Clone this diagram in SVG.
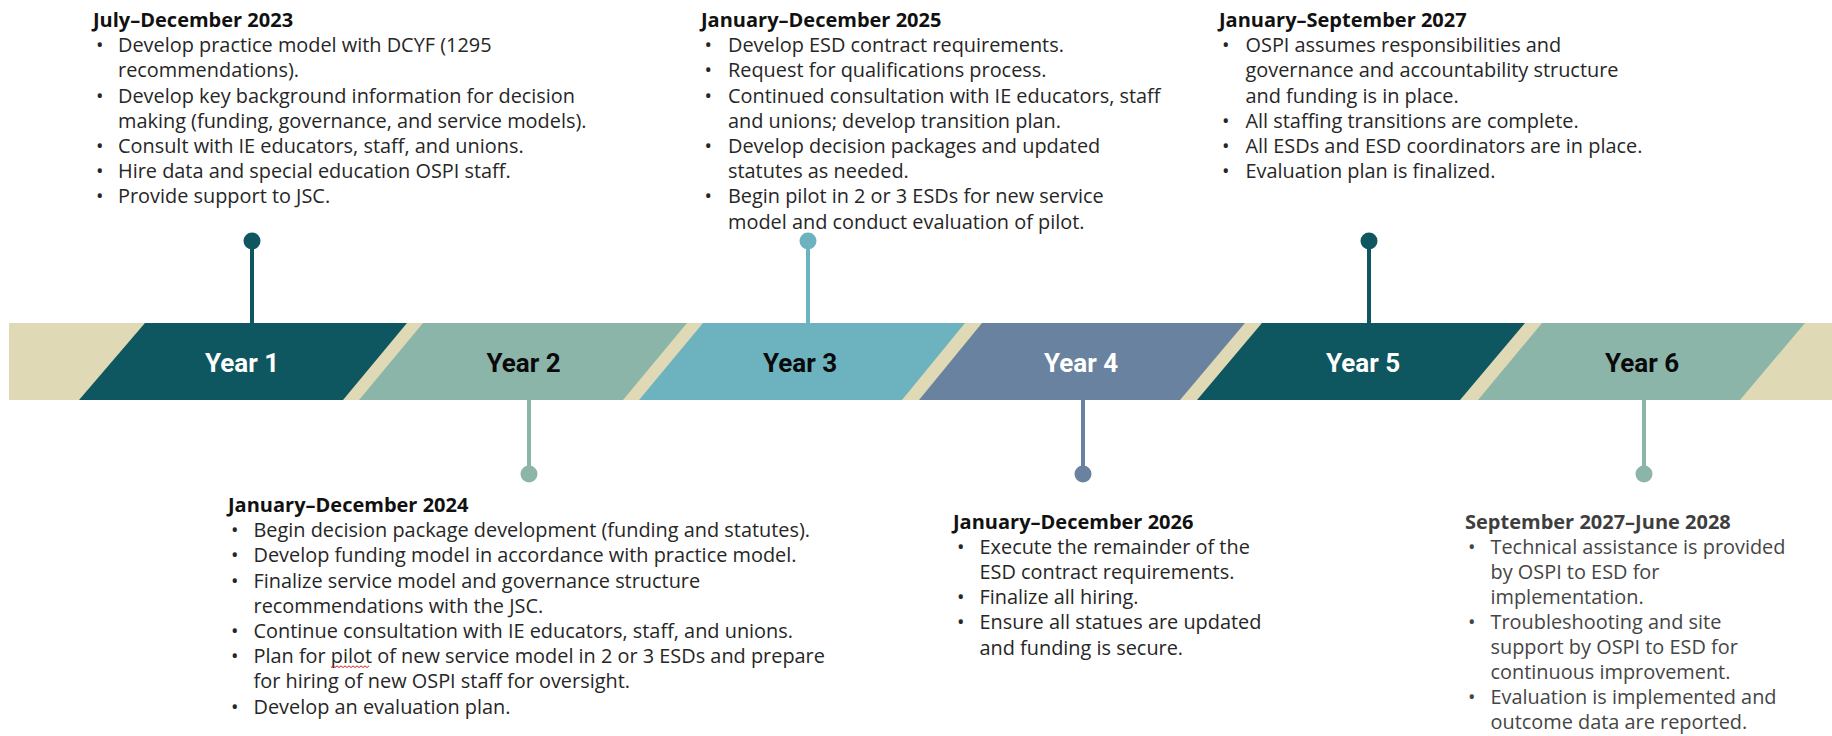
<svg xmlns="http://www.w3.org/2000/svg" width="1832" height="736" viewBox="0 0 1832 736">
<style>
.band{fill:#E0D9B5}
.dk{fill:#0E5660}
.sg{fill:#8CB5AA}
.tl{fill:#6DB3BF}
.sl{fill:#6882A0}
.yl{font-family:Roboto,"Liberation Sans",sans-serif;font-weight:700;font-size:26px;text-anchor:middle}
.w{fill:#FFFFFF}
.b{fill:#0A0A0A}
.hd{font-family:"Open Sans","Liberation Sans",sans-serif;font-weight:700;font-size:20px;fill:#111111}
.tx{font-family:"Open Sans","Liberation Sans",sans-serif;font-size:19.9px;fill:#262626}
.g6 .hd{fill:#3E3E3E}
.g6 .tx{fill:#454545}
.pin{stroke-width:4;fill:none}
</style>
<rect width="1832" height="736" fill="#FFFFFF"/>
<g id="timeline-band">
<rect class="band" x="9" y="323" width="1823" height="77"/>
</g>
<g id="year1">
<polygon class="dk" points="145,323 407,323 343,400 79,400"/>
<text class="yl w" x="242" y="371.5">Year 1</text>
</g>
<g id="year2">
<polygon class="sg" points="423,323 687,323 623,400 359,400"/>
<text class="yl b" x="523.5" y="371.5">Year 2</text>
</g>
<g id="year3">
<polygon class="tl" points="703,323 965,323 902,400 639,400"/>
<text class="yl b" x="800" y="371.5">Year 3</text>
</g>
<g id="year4">
<polygon class="sl" points="982,323 1245,323 1180,400 919,400"/>
<text class="yl w" x="1081" y="371.5">Year 4</text>
</g>
<g id="year5">
<polygon class="dk" points="1262,323 1525,323 1460,400 1197,400"/>
<text class="yl w" x="1363" y="371.5">Year 5</text>
</g>
<g id="year6">
<polygon class="sg" points="1542,323 1805,323 1740,400 1478,400"/>
<text class="yl b" x="1642" y="371.5">Year 6</text>
</g>
<g id="connectors">
<line class="pin" x1="252" y1="241" x2="252" y2="323" stroke="#0E5660"/>
<circle cx="252" cy="241" r="8.5" fill="#0E5660"/>
<line class="pin" x1="808" y1="241" x2="808" y2="323" stroke="#6DB3BF"/>
<circle cx="808" cy="241" r="8.5" fill="#6DB3BF"/>
<line class="pin" x1="1369" y1="241" x2="1369" y2="323" stroke="#0E5660"/>
<circle cx="1369" cy="241" r="8.5" fill="#0E5660"/>
<line class="pin" x1="529" y1="400" x2="529" y2="474" stroke="#8CB5AA"/>
<circle cx="529" cy="474" r="8.5" fill="#8CB5AA"/>
<line class="pin" x1="1083" y1="400" x2="1083" y2="474" stroke="#6882A0"/>
<circle cx="1083" cy="474" r="8.5" fill="#6882A0"/>
<line class="pin" x1="1644" y1="400" x2="1644" y2="474" stroke="#8CB5AA"/>
<circle cx="1644" cy="474" r="8.5" fill="#8CB5AA"/>
</g>
<g id="block-2023">
<text class="hd" x="93" y="27">July–December 2023</text>
<text class="tx" x="96" y="52.2">•</text><text class="tx" x="118" y="52.2">Develop practice model with DCYF (1295</text>
<text class="tx" x="118" y="77.4">recommendations).</text>
<text class="tx" x="96" y="102.6">•</text><text class="tx" x="118" y="102.6">Develop key background information for decision</text>
<text class="tx" x="118" y="127.8">making (funding, governance, and service models).</text>
<text class="tx" x="96" y="153">•</text><text class="tx" x="118" y="153">Consult with IE educators, staff, and unions.</text>
<text class="tx" x="96" y="178.2">•</text><text class="tx" x="118" y="178.2">Hire data and special education OSPI staff.</text>
<text class="tx" x="96" y="203.4">•</text><text class="tx" x="118" y="203.4">Provide support to JSC.</text>
</g>
<g id="block-2025">
<text class="hd" x="701" y="27">January–December 2025</text>
<text class="tx" x="704.5" y="52.2">•</text><text class="tx" x="728" y="52.2">Develop ESD contract requirements.</text>
<text class="tx" x="704.5" y="77.4">•</text><text class="tx" x="728" y="77.4">Request for qualifications process.</text>
<text class="tx" x="704.5" y="102.6">•</text><text class="tx" x="728" y="102.6">Continued consultation with IE educators, staff</text>
<text class="tx" x="728" y="127.8">and unions; develop transition plan.</text>
<text class="tx" x="704.5" y="153">•</text><text class="tx" x="728" y="153">Develop decision packages and updated</text>
<text class="tx" x="728" y="178.2">statutes as needed.</text>
<text class="tx" x="704.5" y="203.4">•</text><text class="tx" x="728" y="203.4">Begin pilot in 2 or 3 ESDs for new service</text>
<text class="tx" x="728" y="228.6">model and conduct evaluation of pilot.</text>
</g>
<g id="block-2027">
<text class="hd" x="1219" y="27">January–September 2027</text>
<text class="tx" x="1222" y="52.2">•</text><text class="tx" x="1245.5" y="52.2">OSPI assumes responsibilities and</text>
<text class="tx" x="1245.5" y="77.4">governance and accountability structure</text>
<text class="tx" x="1245.5" y="102.6">and funding is in place.</text>
<text class="tx" x="1222" y="127.8">•</text><text class="tx" x="1245.5" y="127.8">All staffing transitions are complete.</text>
<text class="tx" x="1222" y="153">•</text><text class="tx" x="1245.5" y="153">All ESDs and ESD coordinators are in place.</text>
<text class="tx" x="1222" y="178.2">•</text><text class="tx" x="1245.5" y="178.2">Evaluation plan is finalized.</text>
</g>
<g id="block-2024">
<text class="hd" x="228" y="512">January–December 2024</text>
<text class="tx" x="231" y="537.2">•</text><text class="tx" x="253.5" y="537.2">Begin decision package development (funding and statutes).</text>
<text class="tx" x="231" y="562.4">•</text><text class="tx" x="253.5" y="562.4">Develop funding model in accordance with practice model.</text>
<text class="tx" x="231" y="587.6">•</text><text class="tx" x="253.5" y="587.6">Finalize service model and governance structure</text>
<text class="tx" x="253.5" y="612.8">recommendations with the JSC.</text>
<text class="tx" x="231" y="638">•</text><text class="tx" x="253.5" y="638">Continue consultation with IE educators, staff, and unions.</text>
<text class="tx" x="231" y="663.2">•</text><text class="tx" x="253.5" y="663.2">Plan for pilot of new service model in 2 or 3 ESDs and prepare</text>
<path d="M331,667.5 l2,-1.6 l2,1.6 l2,-1.6 l2,1.6 l2,-1.6 l2,1.6 l2,-1.6 l2,1.6 l2,-1.6 l2,1.6 l2,-1.6 l2,1.6 l2,-1.6 l2,1.6 l2,-1.6 l2,1.6 l2,-1.6 l2,1.6 l2,-1.6" fill="none" stroke="#E02020" stroke-width="1"/>
<text class="tx" x="253.5" y="688.4">for hiring of new OSPI staff for oversight.</text>
<text class="tx" x="231" y="713.6">•</text><text class="tx" x="253.5" y="713.6">Develop an evaluation plan.</text>
</g>
<g id="block-2026">
<text class="hd" x="953" y="528.5">January–December 2026</text>
<text class="tx" x="957" y="553.7">•</text><text class="tx" x="979.5" y="553.7">Execute the remainder of the</text>
<text class="tx" x="979.5" y="578.9">ESD contract requirements.</text>
<text class="tx" x="957" y="604.1">•</text><text class="tx" x="979.5" y="604.1">Finalize all hiring.</text>
<text class="tx" x="957" y="629.3">•</text><text class="tx" x="979.5" y="629.3">Ensure all statues are updated</text>
<text class="tx" x="979.5" y="654.5">and funding is secure.</text>
</g>
<g id="block-2028" class="g6">
<text class="hd" x="1465" y="528.5">September 2027–June 2028</text>
<text class="tx" x="1468" y="553.6">•</text><text class="tx" x="1490.5" y="553.6">Technical assistance is provided</text>
<text class="tx" x="1490.5" y="578.7">by OSPI to ESD for</text>
<text class="tx" x="1490.5" y="603.8">implementation.</text>
<text class="tx" x="1468" y="628.9">•</text><text class="tx" x="1490.5" y="628.9">Troubleshooting and site</text>
<text class="tx" x="1490.5" y="654">support by OSPI to ESD for</text>
<text class="tx" x="1490.5" y="679.1">continuous improvement.</text>
<text class="tx" x="1468" y="704.2">•</text><text class="tx" x="1490.5" y="704.2">Evaluation is implemented and</text>
<text class="tx" x="1490.5" y="729.3">outcome data are reported.</text>
</g>
</svg>
